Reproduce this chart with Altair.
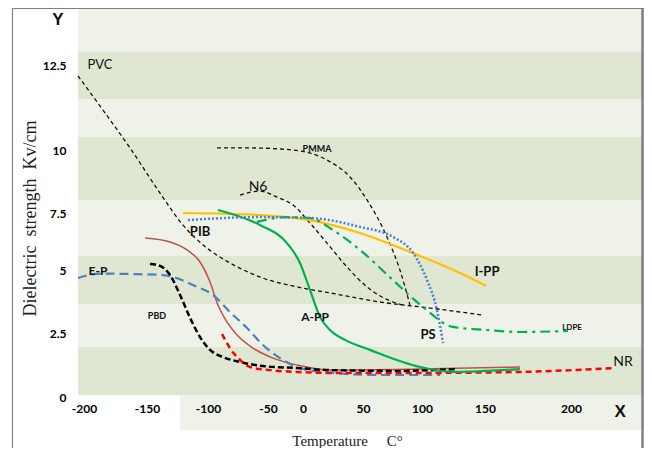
import altair as alt
import pandas as pd

# ---------------- data (temperature in °C, dielectric strength in kV/cm) ----------------
pvc_x = [-204.8, -183.3, -163.5, -139.3, -120.5, -100.8, -81.7, -54.2, -8.6, 22.5, 64.4, 106.4, 148.4]
pvc_y = [12.18, 11.09, 10.06, 8.29, 6.97, 5.96, 5.31, 4.68, 4.33, 4.09, 3.73, 3.49, 3.21]

pmma_x = [-92.5, -65.0, -14.3, 20.0, 39.2, 53.4, 70.3, 81.3, 89.8]
pmma_y = [10.06, 10.06, 10.0, 9.60, 8.93, 8.02, 6.45, 5.0, 3.61]

n6_x = [-73.3, -56.7, -37.1, -14.3, 5.8, 20.0, 36.7, 53.4, 75.4, 83.9]
n6_y = [8.21, 8.37, 8.13, 7.82, 7.06, 6.18, 5.13, 4.33, 3.73, 3.61]

ipp_x = [-120.5, -56.7, 5.8, 47.5, 89.8, 130.2, 150.6]
ipp_y = [7.5, 7.41, 7.19, 6.62, 5.79, 4.88, 4.37]

ps_x = [-116.4, -56.7, 5.8, 47.5, 75.4, 92.4, 104.0, 111.9, 116.7]
ps_y = [7.19, 7.32, 7.28, 6.89, 6.45, 5.75, 4.60, 3.41, 2.11]

app_x = [-91.7, -56.7, -22.9, -4.3, 5.8, 14.2, 22.5, 35.0, 55.9, 98.3, 124.6, 170.3]
app_y = [7.62, 6.97, 6.18, 5.31, 4.21, 3.13, 2.62, 2.23, 1.84, 1.17, 0.98, 1.09]

ldpe_x = [-59.2, -22.9, 5.8, 25.0, 47.5, 75.4, 100.8, 124.6, 151.2, 170.3, 198.2]
ldpe_y = [7.11, 7.32, 7.28, 6.75, 5.88, 4.60, 3.53, 2.74, 2.62, 2.54, 2.58]

ep_x = [-204.8, -187.3, -163.5, -136.9, -109.0, -95.8, -81.7, -67.5, -54.2, -32.9, -8.6, 8.3, 64.4, 114.3]
ep_y = [4.68, 4.86, 4.84, 4.80, 4.33, 4.01, 3.33, 2.70, 2.03, 1.52, 1.17, 1.02, 0.86, 0.86]

pbd_x = [-147.5, -139.3, -131.1, -122.9, -114.7, -106.5, -98.3, -87.5, -73.3, -54.2, -8.6, 22.5, 81.3, 126.2]
pbd_y = [5.26, 5.18, 4.80, 4.01, 3.10, 2.34, 1.84, 1.56, 1.37, 1.21, 1.13, 1.05, 1.02, 1.09]

brown_x = [-151.6, -131.1, -117.2, -106.5, -98.3, -91.7, -84.2, -75.8, -62.5, -42.9, -8.6, 22.5, 98.3, 170.3]
brown_y = [6.40, 6.23, 5.88, 5.35, 4.52, 3.61, 2.94, 2.42, 1.91, 1.52, 1.25, 1.05, 1.09, 1.17]

nr_x = [-88.3, -81.7, -73.3, -65.0, -47.1, -8.6, 22.5, 98.3, 170.3, 224.4]
nr_y = [2.46, 1.91, 1.45, 1.17, 1.05, 0.98, 0.94, 0.94, 0.98, 1.13]

# curve labels
bold_names = ["PIB", "E-P", "A-PP", "I-PP", "PS", "PBD", "PMMA", "LDPE"]
bold_x = [-106.5, -188.9, 10.0, 151.2, 104.8, -141.8, 11.7, 200.6]
bold_y = [6.67, 4.96, 3.13, 4.92, 2.42, 3.17, 10.03, 2.70]
bold_size = [13, 12, 12, 13, 13, 9, 9, 8]

plain_names = ["PVC", "N6", "NR"]
plain_x = [-187.3, -58.3, 230.2]
plain_y = [12.5, 8.53, 1.37]
plain_size = [13, 14, 14]

x_ticks = [-200, -150, -100, -50, 0, 50, 100, 150, 200]
y_ticks = [0, 2.5, 5, 7.5, 10, 12.5]

# background stripes (dark bands)
band_lo = [11.5, 8.02, 3.65, 0.08]
band_hi = [12.88, 10.38, 5.61, 1.95]

NB = "\u00a0"
x_title = "Temperature" + NB * 5 + "C°"
y_title = "Dielectric" + NB * 2 + "strength" + NB * 2 + "Kv/cm"

# ---------------- scales (the original axis is not evenly spaced) ----------------
W, H = 566, 422
x_scale = alt.Scale(domain=[-204.8, -200, -150, -100, -50, 0, 50, 100, 150, 200, 242.4],
                    range=[0, 6, 69, 130, 190, 225, 285, 344, 407, 493, 566])
y_scale = alt.Scale(domain=[-1.29, 0, 2.5, 5, 7.5, 10, 12.5, 14.18],
                    range=[422, 389, 325, 262, 205, 142, 57, 0])

LIGHT = "#eef2e8"
DARK = "#dfe7d3"

XA = alt.Axis(values=x_ticks, title=x_title, orient="bottom", offset=-28, zindex=1,
              labelExpr="'' + datum.value",
              ticks=False, tickSize=0, domain=False, grid=False, labelPadding=1,
              labelOverlap=False, labelFlush=False, labelBound=False,
              labelFont="Lato", labelFontWeight="bold", labelFontSize=12, labelColor="black",
              titleFont="Liberation Serif", titleFontWeight="normal", titleFontSize=15,
              titleColor="#222", titleX=269, titleY=38, titleAlign="center",
              titleBaseline="middle")
YA = alt.Axis(values=y_ticks, title=y_title, orient="left", zindex=1,
              labelExpr="'' + datum.value",
              ticks=False, tickSize=0, domain=False, grid=False, labelPadding=12,
              labelOverlap=False, labelFlush=False, labelBound=False,
              labelFont="Lato", labelFontWeight="bold", labelFontSize=12, labelColor="black",
              titleFont="Liberation Serif", titleFontWeight="normal", titleFontSize=18,
              titleColor="#222", titleX=-48, titleY=210, titleAngle=-90,
              titleAlign="center", titleBaseline="middle")


def X(field):
    return alt.X(field, scale=x_scale, axis=XA)


def Y(field):
    return alt.Y(field, scale=y_scale, axis=YA)


bands = alt.Chart(pd.DataFrame({"lo": band_lo, "hi": band_hi})).mark_rect(color=DARK).encode(
    x=alt.value(0), x2=alt.value(W), y=Y("lo:Q"), y2="hi:Q")

white = alt.Chart(pd.DataFrame({"a": [-204.8], "b": [-122.9], "lo": [-1.29], "hi": [0.08]})).mark_rect(
    color="white").encode(x=X("a:Q"), x2="b:Q", y=Y("lo:Q"), y2="hi:Q")


def curve(xs, ys, color, width, dash=None):
    df = pd.DataFrame({"t": xs, "v": ys, "i": list(range(len(xs)))})
    kw = dict(color=color, strokeWidth=width, interpolate="monotone")
    if dash:
        kw["strokeDash"] = dash
    return alt.Chart(df).mark_line(**kw).encode(x=X("t:Q"), y=Y("v:Q"), order="i:Q")


lines = [
    curve(pvc_x, pvc_y, "#111111", 1.3, [4, 3]),
    curve(pmma_x, pmma_y, "#111111", 1.3, [4, 3]),
    curve(n6_x, n6_y, "#111111", 1.3, [4, 3]),
    curve(brown_x, brown_y, "#c0504d", 1.5),
    curve(ep_x, ep_y, "#4f81bd", 2.2, [9, 5]),
    curve(pbd_x, pbd_y, "#000000", 2.5, [6, 3]),
    curve(nr_x, nr_y, "#ff0000", 2.5, [6, 4]),
    curve(ipp_x, ipp_y, "#ffc000", 2.2),
    curve(ldpe_x, ldpe_y, "#00b050", 2.2, [10, 5, 3, 5]),
    curve(app_x, app_y, "#00b050", 2.2),
    curve(ps_x, ps_y, "#4f7fd0", 2.5, [2, 2]),
]

bold_labels = alt.Chart(pd.DataFrame({"t": bold_x, "v": bold_y, "s": bold_size, "n": bold_names})).mark_text(
    font="Lato", fontWeight="bold", color="#111", align="center", baseline="middle").encode(
    x=X("t:Q"), y=Y("v:Q"), size=alt.Size("s:Q", scale=None, legend=None), text="n:N")

plain_labels = alt.Chart(pd.DataFrame({"t": plain_x, "v": plain_y, "s": plain_size, "n": plain_names})).mark_text(
    font="Lato", color="#111", align="center", baseline="middle").encode(
    x=X("t:Q"), y=Y("v:Q"), size=alt.Size("s:Q", scale=None, legend=None), text="n:N")

x_letter = alt.Chart(pd.DataFrame({"t": [228.5], "v": [-0.59], "n": ["X"]})).mark_text(
    font="Liberation Sans", fontWeight="bold", fontSize=17, color="#111", baseline="middle").encode(
    x=X("t:Q"), y=Y("v:Q"), text="n:N")

y_letter = alt.Chart(pd.DataFrame({"n": ["Y"]})).mark_text(
    font="Liberation Sans", fontWeight="bold", fontSize=17, color="#111", baseline="middle").encode(
    x=alt.value(-20), y=alt.value(12), text="n:N")

frame_left = alt.Chart(pd.DataFrame({"n": [0]})).mark_rule(color="#808080", strokeWidth=1.2).encode(
    x=alt.value(-65.5), y=alt.value(0), y2=alt.value(450))
frame_top = alt.Chart(pd.DataFrame({"n": [0]})).mark_rule(color="#808080", strokeWidth=1.2).encode(
    x=alt.value(-65.5), x2=alt.value(W), y=alt.value(0.5))
frame_right = alt.Chart(pd.DataFrame({"n": [0]})).mark_rule(color="#808080", strokeWidth=2.5).encode(
    x=alt.value(W - 1.5), y=alt.value(0), y2=alt.value(450))

chart = alt.layer(bands, white, *lines, bold_labels, plain_labels, x_letter, y_letter,
                  frame_left, frame_top, frame_right).properties(
    width=W, height=H,
    padding={"left": 70, "top": 0, "right": 0, "bottom": 18},
    autosize=alt.AutoSizeParams(type="none"),
    background="white",
).configure_view(stroke=None, fill=LIGHT)

chart.save("out.html", embed_options={"renderer": "svg", "actions": False})
